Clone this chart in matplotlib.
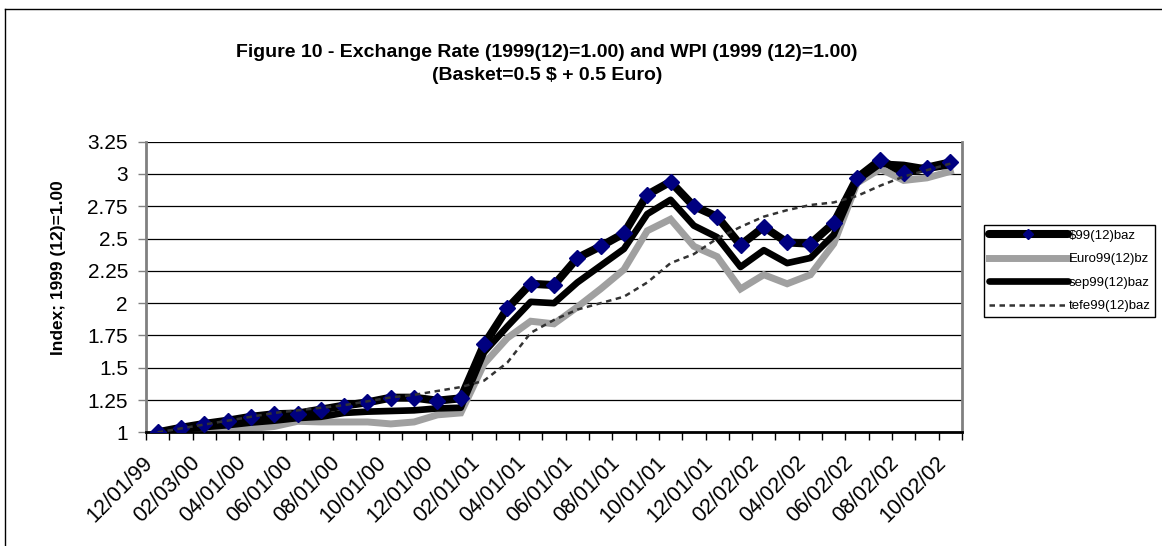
import matplotlib.pyplot as plt
from matplotlib.lines import Line2D
from matplotlib.transforms import ScaledTranslation

plt.rcParams['font.family'] = ['Liberation Sans', 'DejaVu Sans']

# --- datos ---
months = ['12/01/99', '01/03/00', '02/03/00', '03/01/00', '04/01/00', '05/01/00',
          '06/01/00', '07/03/00', '08/01/00', '09/01/00', '10/01/00', '11/01/00',
          '12/01/00', '01/02/01', '02/01/01', '03/01/01', '04/01/01', '05/01/01',
          '06/01/01', '07/02/01', '08/01/01', '09/03/01', '10/01/01', '11/01/01',
          '12/01/01', '01/02/02', '02/02/02', '03/01/02', '04/02/02', '05/02/02',
          '06/02/02', '07/01/02', '08/02/02', '09/02/02', '10/02/02']

dollar = [1.00, 1.035, 1.065, 1.09, 1.12, 1.14, 1.145, 1.176, 1.207, 1.232,
          1.268, 1.268, 1.245, 1.263, 1.68, 1.96, 2.15, 2.14, 2.35, 2.44,
          2.54, 2.84, 2.94, 2.75, 2.67, 2.45, 2.59, 2.47, 2.46, 2.62,
          2.97, 3.11, 3.01, 3.05, 3.09]

euro = [1.00, 1.00, 1.01, 1.02, 1.03, 1.045, 1.085, 1.08, 1.08, 1.08,
        1.065, 1.08, 1.135, 1.15, 1.53, 1.73, 1.86, 1.84, 1.97, 2.11,
        2.26, 2.56, 2.65, 2.44, 2.36, 2.11, 2.22, 2.15, 2.22, 2.46,
        2.93, 3.04, 2.95, 2.97, 3.02]

sep = [1.00, 1.02, 1.04, 1.055, 1.075, 1.09, 1.11, 1.12, 1.15, 1.16,
       1.165, 1.17, 1.185, 1.19, 1.62, 1.82, 2.01, 2.00, 2.16, 2.29,
       2.42, 2.69, 2.80, 2.60, 2.51, 2.28, 2.41, 2.31, 2.35, 2.53,
       2.95, 3.08, 3.07, 3.04, 3.07]

tefe = [1.00, 1.03, 1.06, 1.09, 1.12, 1.15, 1.17, 1.19, 1.21, 1.24,
        1.27, 1.29, 1.32, 1.35, 1.40, 1.54, 1.77, 1.87, 1.95, 2.00,
        2.05, 2.16, 2.31, 2.38, 2.50, 2.59, 2.67, 2.72, 2.76, 2.78,
        2.83, 2.91, 2.98, 3.03, 3.08]

yticks = [1, 1.25, 1.5, 1.75, 2, 2.25, 2.5, 2.75, 3, 3.25]
ytick_labels = ['1', '1.25', '1.5', '1.75', '2', '2.25', '2.5', '2.75', '3', '3.25']

W, H = 1162, 546
fig = plt.figure(figsize=(W / 100, H / 100), dpi=100)
ax = fig.add_axes([146 / W, 1 - 432.3 / H, (962 - 146) / W, (432.3 - 141.7) / H])

x = list(range(len(months)))

# grilla
for yv in yticks:
    ax.axhline(yv, color='black', lw=0.9, zorder=1)

# series
ax.plot(x, euro, color='#a0a0a0', lw=5, solid_joinstyle='miter', zorder=2,
        label='Euro99(12)bz')
ax.plot(x, sep, color='black', lw=4.8, solid_joinstyle='round',
        solid_capstyle='round', zorder=3, label='sep99(12)baz')
ax.plot(x, dollar, color='black', lw=5.8, solid_joinstyle='round',
        solid_capstyle='round', marker='D', markersize=8.3,
        markerfacecolor='#000080', markeredgecolor='#000080', zorder=4,
        label='$99(12)baz')
ax.plot(x, tefe, color='#333333', lw=1.8, ls=(0, (2.2, 1.8)), zorder=5,
        label='tefe99(12)baz')

# ejes
ax.set_xlim(-0.5, len(months) - 0.5)
ax.set_ylim(1, 3.25)
ax.set_yticks(yticks)
ax.set_yticklabels(ytick_labels, fontsize=15)
ax.set_xticks([i - 0.5 for i in range(len(months) + 1)])
ax.set_xticklabels([])
ax.set_xticks(x[::2], minor=True)
ax.set_xticklabels(months[::2], minor=True, rotation=45, ha='right',
                   va='top', rotation_mode='anchor', fontsize=15.5)
ax.tick_params(axis='x', which='major', direction='out', length=6, width=1,
               color='black')
ax.tick_params(axis='x', which='minor', length=0, pad=10)
ax.tick_params(axis='y', direction='out', length=6, width=1, color='#808080',
               pad=7)

# corrimiento de las etiquetas del eje X
shift = ScaledTranslation(-0.15, -0.06, fig.dpi_scale_trans)
for lab in ax.get_xticklabels(minor=True):
    lab.set_transform(lab.get_transform() + shift)

ax.spines['left'].set_color('#808080')
ax.spines['left'].set_linewidth(2)
ax.spines['bottom'].set_color('black')
ax.spines['bottom'].set_linewidth(2)
ax.spines['right'].set_color('#808080')
ax.spines['right'].set_linewidth(2)
ax.spines['top'].set_visible(False)

# titulo y etiqueta Y
fig.text(547 / W, 1 - 64 / H,
         'Figure 10 - Exchange Rate (1999(12)=1.00) and WPI (1999 (12)=1.00)\n'
         '(Basket=0.5 $ + 0.5 Euro)',
         ha='center', va='center', fontsize=14, fontweight='bold',
         linespacing=1.45)
fig.text(58 / W, 1 - 268 / H, 'Index; 1999 (12)=1.00', rotation=90,
         ha='center', va='center', fontsize=12.5, fontweight='bold')

# leyenda
handles, labels = ax.get_legend_handles_labels()
order = [2, 0, 1, 3]
leg = fig.legend([handles[i] for i in order], [labels[i] for i in order],
                 loc='upper left', bbox_to_anchor=(984 / W, 1 - 225 / H),
                 borderaxespad=0, fontsize=9.5, numpoints=1, handlelength=6,
                 handletextpad=0.05, labelspacing=0.85, fancybox=False,
                 framealpha=1, edgecolor='black', borderpad=0.35)
leg.get_frame().set_linewidth(1)
leg.legend_handles[0].set_markersize(5)

# borde del area del grafico
fig.add_artist(Line2D([5 / W, 5 / W], [0, 1 - 9 / H], color='black', lw=1))
fig.add_artist(Line2D([5 / W, 1], [1 - 9 / H, 1 - 9 / H], color='black', lw=1))

fig.savefig('out.png', dpi=100)
